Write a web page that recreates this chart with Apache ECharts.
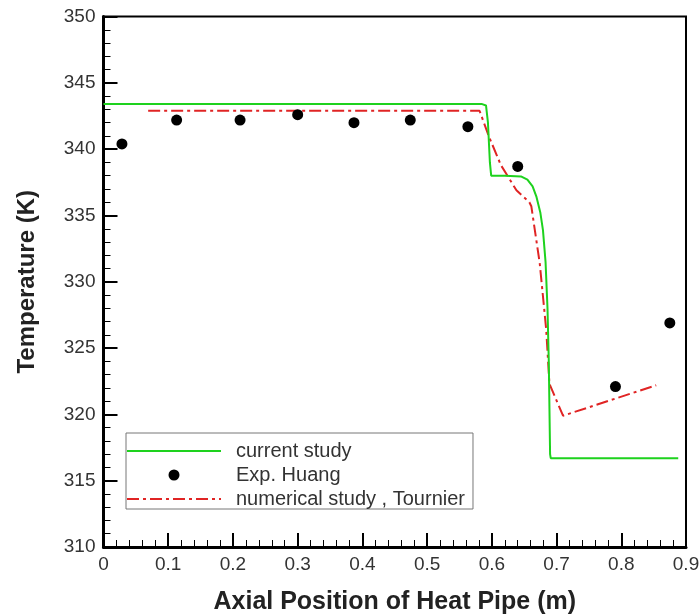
<!DOCTYPE html>
<html>
<head>
<meta charset="utf-8">
<script src="https://cdn.jsdelivr.net/npm/echarts@6/dist/echarts.min.js"></script>
<style>
html,body{margin:0;padding:0;background:#fff;}
#main{width:700px;height:615px;}
</style>
</head>
<body>
<div id="main"></div>
<script>
// Current study (green)
var greenX = [0, 0.585, 0.591, 0.594, 0.597, 0.599, 0.62, 0.645, 0.655, 0.663, 0.669, 0.675, 0.679, 0.683, 0.686, 0.688, 0.690, 0.691, 0.888];
var greenY = [343.4, 343.4, 343.3, 342.0, 339.0, 338.0, 338.0, 337.95, 337.7, 337.2, 336.4, 335.2, 333.9, 331.5, 328.0, 324.0, 317.0, 316.7, 316.7];
// Numerical study, Tournier (red dash-dot)
var redX = [0.069, 0.581, 0.584, 0.596, 0.614, 0.638, 0.658, 0.661, 0.674, 0.684, 0.689, 0.710, 0.854];
var redY = [342.9, 342.9, 342.8, 340.9, 338.8, 336.9, 336.0, 335.7, 331.4, 326.4, 322.3, 319.9, 322.2];
// Exp. Huang (black dots)
var expX = [0.0285, 0.113, 0.211, 0.300, 0.387, 0.474, 0.563, 0.640, 0.791, 0.875];
var expY = [340.4, 342.2, 342.2, 342.6, 342.0, 342.2, 341.7, 338.7, 322.1, 326.9];
// Axis ticks
var xTicks = [0, 0.1, 0.2, 0.3, 0.4, 0.5, 0.6, 0.7, 0.8, 0.9];
var yTicks = [310, 315, 320, 325, 330, 335, 340, 345, 350];

function pairs(xs, ys){ return xs.map(function(x,i){ return [x, ys[i]]; }); }

var chart = echarts.init(document.getElementById('main'), null, {renderer:'canvas'});
var font = 'Liberation Sans, Arial, Helvetica, sans-serif';
chart.setOption({
  animation: false,
  backgroundColor: '#fff',
  grid: {left: 103.5, right: 14, top: 16.6, bottom: 68, show: true, borderColor: '#000', borderWidth: 2,
         backgroundColor: 'transparent', containLabel: false, outerBoundsMode: 'none'},
  legend: {
    left: 126, top: 433,
    orient: 'vertical',
    itemWidth: 94, itemHeight: 11, itemGap: 4,
    padding: [8, 8, 0, 0],
    borderColor: '#777', borderWidth: 1,
    textStyle: {fontFamily: font, fontSize: 20, lineHeight: 20, color: '#333', padding: [0,0,0,10]},
    data: [
      {name: 'current study', itemStyle: {opacity: 0}},
      {name: 'Exp. Huang'},
      {name: 'numerical study , Tournier', itemStyle: {opacity: 0}}
    ]
  },
  xAxis: {
    type: 'value', min: xTicks[0], max: xTicks[xTicks.length-1], interval: 0.1,
    name: 'Axial Position of Heat Pipe (m)', nameLocation: 'middle', nameGap: 43,
    nameTextStyle: {fontFamily: font, fontSize: 25, fontWeight: 'bold', color: '#222'},
    axisLine: {lineStyle: {color: '#000', width: 3}},
    axisTick: {inside: true, length: 14, lineStyle: {color: '#000', width: 2}},
    minorTick: {show: true, splitNumber: 5, length: 7, lineStyle: {color: '#000', width: 1}},
    axisLabel: {fontFamily: font, fontSize: 19, color: '#333', margin: 8},
    splitLine: {show: false}
  },
  yAxis: {
    type: 'value', min: yTicks[0], max: yTicks[yTicks.length-1], interval: 5,
    name: 'Temperature (K)', nameLocation: 'middle', nameGap: 64,
    nameTextStyle: {fontFamily: font, fontSize: 24, fontWeight: 'bold', color: '#222'},
    axisLine: {lineStyle: {color: '#000', width: 3}},
    axisTick: {inside: true, length: 14, lineStyle: {color: '#000', width: 2}},
    minorTick: {show: true, splitNumber: 5, length: 7, lineStyle: {color: '#000', width: 1}},
    axisLabel: {fontFamily: font, fontSize: 19, color: '#333', margin: 8},
    splitLine: {show: false}
  },
  series: [
    {name: 'current study', type: 'line', data: pairs(greenX, greenY), symbol: 'none',
     color: '#1ed21e', lineStyle: {color: '#1ed21e', width: 2}, z: 3},
    {name: 'Exp. Huang', type: 'scatter', data: pairs(expX, expY), symbol: 'circle', symbolSize: 11,
     color: '#000', itemStyle: {color: '#000', opacity: 1}, z: 4},
    {name: 'numerical study , Tournier', type: 'line', data: pairs(redX, redY), symbol: 'none',
     color: '#e02424', lineStyle: {color: '#e02424', width: 2, type: [12, 4, 3, 4]}, z: 2}
  ]
});
</script>
</body>
</html>
